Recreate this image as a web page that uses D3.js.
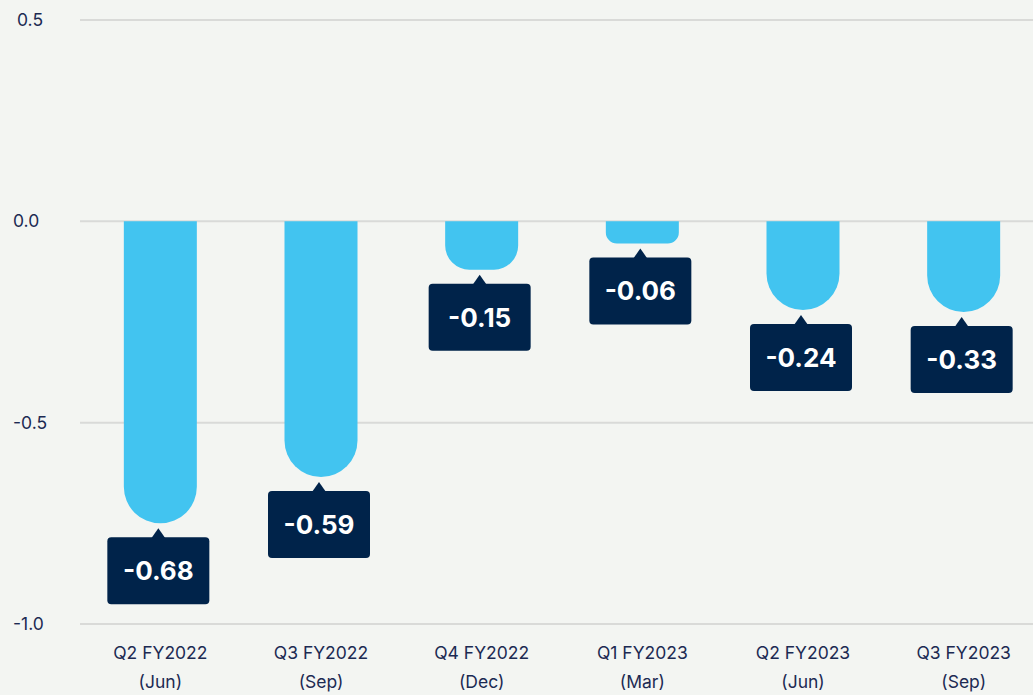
<!DOCTYPE html>
<html>
<head>
<meta charset="utf-8">
<script src="https://cdn.jsdelivr.net/npm/d3@7"></script>
<style>
  html, body { margin: 0; padding: 0; background: #f3f5f2; }
  svg { display: block; font-family: Inter, "Noto Sans", sans-serif; }
</style>
</head>
<body>
<div id="chart"></div>
<script>
// categories and values
const quarters = ["Q2 FY2022", "Q3 FY2022", "Q4 FY2022", "Q1 FY2023", "Q2 FY2023", "Q3 FY2023"];
const months = ["(Jun)", "(Sep)", "(Dec)", "(Mar)", "(Jun)", "(Sep)"];
const labelValues = [-0.68, -0.59, -0.15, -0.06, -0.24, -0.33];
// where each bar actually ends in the picture
const barEnds = [-0.75, -0.635, -0.12, -0.055, -0.22, -0.225];
const yTicks = [0.5, 0.0, -0.5, -1.0];

const width = 1033;
const height = 695;

// plain hyphen instead of the unicode minus d3 uses
const fmt1 = v => d3.format(".1f")(v).replace("\u2212", "-");
const fmt2 = v => d3.format(".2f")(v).replace("\u2212", "-");

const svg = d3.select("#chart")
    .append("svg")
    .attr("width", width)
    .attr("height", height);

svg.append("rect")
    .attr("width", width)
    .attr("height", height)
    .attr("fill", "#f3f5f2");

const y = d3.scaleLinear()
    .domain([0.5, -1.0])
    .range([20, 624]);

const x = d3.scaleBand()
    .domain(quarters)
    .range([80, 1044]);

const barWidth = 73;

// grid lines
svg.selectAll(".grid")
    .data(yTicks)
    .enter()
    .append("line")
    .attr("class", "grid")
    .attr("x1", 80)
    .attr("x2", width)
    .attr("y1", d => y(d))
    .attr("y2", d => y(d))
    .style("stroke", "#d9dad8")
    .style("stroke-width", 2);

// y tick labels
svg.selectAll(".ytick")
    .data(yTicks)
    .enter()
    .append("text")
    .attr("class", "ytick")
    .attr("x", d => d > 0 ? 17 : 13)
    .attr("y", d => y(d))
    .attr("dy", "0.35em")
    .style("font-size", "17.5px")
    .style("fill", "#1c2a52")
    .text(fmt1);

// bars with rounded bottom end
function barPath(d, i) {
    const cx = x(quarters[i]) + x.bandwidth() / 2;
    const x0 = cx - barWidth / 2;
    const x1 = cx + barWidth / 2;
    const y0 = y(0);
    const yb = y(d);
    const r = Math.min(barWidth / 2, (yb - y0) / 2);
    return `M${x0},${y0} L${x1},${y0} L${x1},${yb - r} ` +
        `A${r},${r} 0 0 1 ${x1 - r},${yb} L${x0 + r},${yb} ` +
        `A${r},${r} 0 0 1 ${x0},${yb - r} Z`;
}

svg.selectAll(".bar")
    .data(barEnds)
    .enter()
    .append("path")
    .attr("class", "bar")
    .attr("d", barPath)
    .style("fill", "#42c4f0");

// value labels
const boxW = 102;
const boxH = 67;
const labels = svg.selectAll(".label")
    .data(labelValues)
    .enter()
    .append("g")
    .attr("class", "label")
    .attr("transform", (d, i) => {
        const cx = x(quarters[i]) + x.bandwidth() / 2 - 2;
        const top = y(barEnds[i]) + 14;
        return `translate(${cx},${top})`;
    });

labels.append("rect")
    .attr("x", -boxW / 2)
    .attr("y", 0)
    .attr("width", boxW)
    .attr("height", boxH)
    .attr("rx", 4)
    .style("fill", "#00234a");

labels.append("path")
    .attr("d", "M-7,1 L0,-9 L7,1 Z")
    .style("fill", "#00234a");

labels.append("text")
    .attr("x", 0)
    .attr("y", boxH / 2)
    .attr("dy", "0.36em")
    .attr("text-anchor", "middle")
    .style("font-size", "26px")
    .style("font-weight", "bold")
    .style("fill", "#ffffff")
    .text(fmt2);

// category labels
const cats = svg.selectAll(".cat")
    .data(quarters)
    .enter()
    .append("text")
    .attr("class", "cat")
    .attr("x", d => x(d) + x.bandwidth() / 2)
    .attr("y", 659)
    .attr("text-anchor", "middle")
    .style("font-size", "17.5px")
    .style("fill", "#1c2a52");

cats.append("tspan")
    .attr("x", d => x(d) + x.bandwidth() / 2)
    .text(d => d);

cats.append("tspan")
    .attr("x", d => x(d) + x.bandwidth() / 2)
    .attr("dy", 29)
    .text((d, i) => months[i]);
</script>
</body>
</html>
